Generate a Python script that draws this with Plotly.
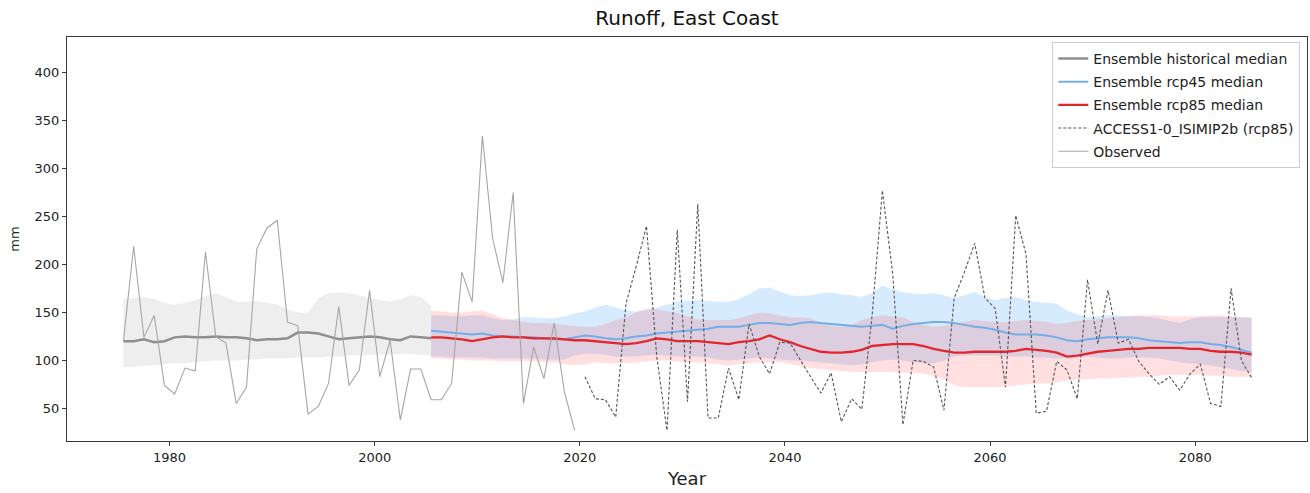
import numpy as np
import plotly.graph_objects as go

# ---- data (annual values, plotted at mid-year) ----
obs_years = np.arange(1975, 2020) + 0.5
observed = [120, 219, 124, 147, 74, 65, 92, 89, 213, 125,
            118, 55, 72, 216, 238, 246, 140, 136, 44, 52,
            76, 156, 74, 90, 173, 83, 121, 38, 91, 91,
            59, 59, 76, 192, 161, 334, 227, 181, 275, 55,
            114, 81, 139, 67, 27]

hist_years = np.arange(1975, 2006) + 0.5
hist_median = [120, 120, 122, 119, 120, 124, 125, 124, 124, 125,
               124, 124, 123, 121, 122, 122, 123, 129, 129, 128,
               125, 122, 123, 124, 125, 124, 122, 121, 125, 124, 123]
hist_upper = [164, 165, 166, 164, 160, 158, 160, 163, 167, 170,
              166, 161, 161, 162, 160, 158, 153, 150, 149, 165,
              170, 171, 170, 168, 165, 163, 161, 164, 168, 166, 157]
hist_lower = [93, 93, 94, 95, 96, 97, 97, 98, 99, 100,
              100, 100, 101, 101, 102, 102, 102, 103, 103, 103,
              104, 104, 105, 105, 106, 106, 106, 107, 107, 106, 105]

proj_years = np.arange(2005, 2086) + 0.5
rcp45_median = [131, 130, 129, 128, 127, 128, 126, 125, 125, 124,
                124, 123, 122, 122, 124, 126, 125, 123, 122, 123,
                125, 126, 128, 129, 130, 131, 132, 133, 135, 135,
                135, 137, 139, 139, 138, 137, 139, 140, 139, 138,
                137, 136, 135, 136, 137, 133, 136, 138, 139, 140,
                140, 139, 137, 135, 134, 132, 129, 127, 127, 127,
                126, 124, 121, 120, 122, 123, 124, 124, 124, 123,
                121, 120, 119, 118, 119, 119, 117, 116, 114, 111, 108]
rcp45_upper = [147, 147, 146, 146, 147, 147, 144, 142, 143, 145,
               145, 144, 144, 146, 149, 151, 155, 158, 155, 152,
               151, 152, 155, 158, 161, 162, 163, 162, 161, 161,
               164, 169, 175, 176, 172, 168, 167, 168, 170, 171,
               169, 168, 166, 170, 178, 174, 171, 170, 169, 170,
               168, 165, 168, 171, 166, 163, 165, 166, 163, 161,
               160, 159, 152, 148, 145, 146, 147, 147, 146, 146,
               145, 144, 141, 139, 143, 145, 145, 145, 145, 145, 145]
rcp45_lower = [104, 104, 103, 103, 103, 103, 102, 102, 102, 102,
               102, 101, 101, 101, 105, 107, 107, 106, 104, 104,
               104, 105, 106, 105, 104, 104, 104, 103, 101, 100,
               101, 102, 103, 102, 101, 100, 100, 99, 98, 97,
               96, 95, 96, 98, 100, 101, 100, 98, 97, 97,
               100, 104, 105, 105, 105, 105, 104, 104, 104, 103,
               103, 102, 102, 103, 104, 103, 102, 102, 103, 103,
               103, 102, 100, 98, 97, 96, 95, 93, 91, 89, 88]

rcp85_median = [124, 124, 123, 122, 120, 122, 124, 125, 124, 124,
                123, 123, 123, 122, 121, 121, 120, 119, 118, 117,
                118, 120, 123, 122, 120, 120, 120, 119, 118, 117,
                119, 120, 122, 126, 122, 119, 115, 112, 109, 108,
                108, 109, 111, 115, 116, 117, 117, 117, 115, 112,
                110, 108, 108, 109, 109, 109, 109, 110, 112, 111,
                110, 108, 104, 105, 107, 109, 110, 111, 112, 112,
                113, 113, 113, 113, 112, 112, 110, 109, 109, 108, 106]
rcp85_upper = [152, 151, 150, 150, 151, 152, 148, 144, 142, 140,
               139, 139, 138, 137, 136, 135, 135, 138, 142, 145,
               150, 154, 153, 151, 149, 146, 143, 142, 142, 142,
               144, 147, 150, 149, 147, 145, 145, 144, 139, 136,
               135, 137, 142, 145, 147, 146, 145, 140, 137, 135,
               136, 138, 140, 142, 141, 140, 140, 141, 142, 141,
               140, 138, 139, 141, 142, 143, 144, 145, 146, 147,
               147, 147, 146, 146, 146, 146, 147, 147, 146, 145, 144]
rcp85_lower = [102, 102, 101, 101, 100, 100, 100, 99, 99, 99,
               99, 98, 98, 96, 95, 96, 98, 97, 97, 97,
               98, 99, 100, 100, 99, 98, 98, 97, 96, 95,
               96, 97, 98, 98, 98, 96, 94, 92, 91, 90,
               89, 88, 88, 88, 88, 88, 87, 87, 86, 84,
               80, 74, 72, 72, 72, 72, 73, 74, 75, 76,
               76, 77, 79, 80, 80, 81, 81, 82, 82, 83,
               83, 84, 85, 85, 85, 85, 84, 84, 83, 83, 83]

model_years = np.arange(2020, 2086) + 0.5
access_rcp85 = [83, 60, 59, 41, 159, 198, 240, 104, 27, 236,
                57, 263, 40, 40, 92, 59, 138, 104, 86, 119,
                118, 100, 83, 66, 87, 36, 60, 49, 147, 277,
                191, 33, 100, 99, 93, 48, 165, 192, 222, 165,
                154, 72, 251, 211, 45, 47, 99, 90, 60, 184,
                117, 173, 118, 122, 99, 86, 75, 83, 69, 86,
                96, 55, 52, 175, 100, 82]

x_ticks = [1980, 2000, 2020, 2040, 2060, 2080]
y_ticks = [50, 100, 150, 200, 250, 300, 350, 400]

FONT = "DejaVu Sans"


def band(x, upper, lower, fillcolor):
    xs = list(x) + list(x)[::-1]
    ys = list(upper) + list(lower)[::-1]
    return go.Scatter(x=xs, y=ys, fill="toself", fillcolor=fillcolor,
                      line=dict(width=0), mode="lines", hoverinfo="skip",
                      showlegend=False)


fig = go.Figure()

# uncertainty ranges
fig.add_trace(band(hist_years, hist_upper, hist_lower, "rgba(200,200,200,0.30)"))
fig.add_trace(band(proj_years, rcp45_upper, rcp45_lower, "rgba(40,150,250,0.19)"))
fig.add_trace(band(proj_years, rcp85_upper, rcp85_lower, "rgba(255,40,50,0.15)"))

# ensemble medians
fig.add_trace(go.Scatter(x=hist_years, y=hist_median, mode="lines",
                         name="Ensemble historical median", legendgroup="a",
                         line=dict(color="#8f8f8f", width=2.5)))
fig.add_trace(go.Scatter(x=proj_years, y=rcp45_median, mode="lines",
                         name="Ensemble rcp45 median", legendgroup="b",
                         line=dict(color="#74aee8", width=2)))
fig.add_trace(go.Scatter(x=proj_years, y=rcp85_median, mode="lines",
                         name="Ensemble rcp85 median", legendgroup="c",
                         line=dict(color="#e3262c", width=2.3)))

# single model and observations
fig.add_trace(go.Scatter(x=model_years, y=access_rcp85, mode="lines",
                         name="ACCESS1-0_ISIMIP2b (rcp85)", legendgroup="d",
                         line=dict(color="#555555", width=1.1, dash="3px,2px")))
fig.add_trace(go.Scatter(x=obs_years, y=observed, mode="lines",
                         name="Observed", legendgroup="e",
                         line=dict(color="#a6a6a6", width=1.1)))

axis_common = dict(showline=True, mirror=True, linecolor="#3a3a3a", linewidth=1,
                   ticks="outside", ticklen=4, tickcolor="#3a3a3a",
                   showgrid=False, zeroline=False,
                   tickfont=dict(family=FONT, size=13, color="#222222"))

fig.update_layout(
    width=1310, height=493,
    margin=dict(l=67, r=3, t=37, b=52),
    paper_bgcolor="white", plot_bgcolor="white",
    font=dict(family=FONT, color="#222222"),
    title=dict(text="Runoff, East Coast", x=0.5, xref="paper", xanchor="center",
               y=1 - 18 / 493, yref="container", yanchor="middle",
               font=dict(family=FONT, size=20, color="#111111")),
    xaxis=dict(range=[1970.0, 2090.9], tickvals=x_ticks,
               title=dict(text="Year", font=dict(family=FONT, size=18, color="#222222"),
                          standoff=8),
               **axis_common),
    yaxis=dict(range=[16, 437], tickvals=y_ticks,
               title=dict(text="mm", font=dict(family=FONT, size=13, color="#222222"),
                          standoff=12),
               **axis_common),
    legend=dict(x=0.9946, y=0.988, xanchor="right", yanchor="top",
                bgcolor="rgba(255,255,255,0.85)", bordercolor="#cccccc", borderwidth=1,
                font=dict(family=FONT, size=14, color="#222222"),
                traceorder="grouped", tracegroupgap=2),
    showlegend=True,
)

fig.write_html("out.html")
